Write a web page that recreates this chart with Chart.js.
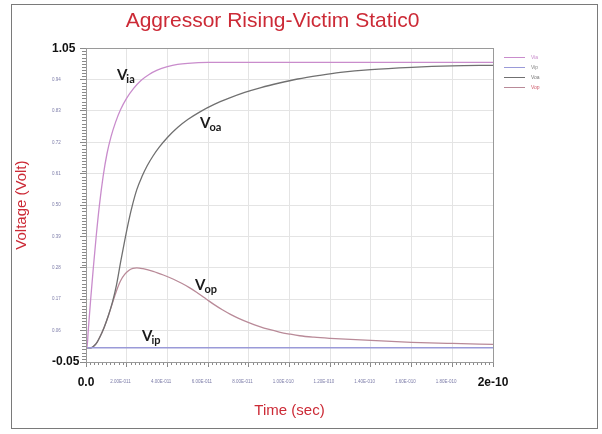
<!DOCTYPE html>
<html lang="en">
<head>
<meta charset="UTF-8">
<title>Aggressor Rising-Victim Static0</title>
<script src="https://cdn.jsdelivr.net/npm/chart.js"></script>
<style>
    body { margin: 0; background: #fff; }
    .wrap { position: relative; width: 602px; height: 434px; }
    .wrap canvas { position: absolute; left: 0; top: 0; }
    .frame {
        position: absolute; left: 11px; top: 4px; width: 585px; height: 423px;
        border: 1px solid #7a7a7a; pointer-events: none;
    }
</style>
</head>
<body>
<div class="wrap">
    <canvas id="chart" width="602" height="434"></canvas>
    <div class="frame"></div>
</div>
<script>
// time in ps, voltage in V
const seriesNames = ['Via', 'Vip', 'Voa', 'Vop'];

const viaTime = [0, 0.5, 1.1, 2.3, 3.6, 5, 6.6, 8.4, 10.3, 12.3, 14.5, 17, 20, 23.5, 27, 31, 35, 40, 45, 50, 60, 200];
const viaVolt = [0, 0, 0.06, 0.17, 0.28, 0.39, 0.50, 0.60, 0.68, 0.74, 0.79, 0.835, 0.875, 0.91, 0.937, 0.958, 0.973, 0.985, 0.993, 0.997, 1.0, 1.0];

const vipTime = [0, 200];
const vipVolt = [0, 0];

const voaTime = [0, 2.5, 4, 5.5, 7, 9, 11, 13, 15, 17, 19, 21, 23, 25, 27.5, 30, 33, 36, 40, 45, 50, 56, 63, 70, 78, 86, 95, 104, 115, 125, 140, 160, 180, 200];
const voaVolt = [0, 0, 0.007, 0.02, 0.04, 0.073, 0.113, 0.16, 0.22, 0.30, 0.375, 0.445, 0.505, 0.555, 0.60, 0.637, 0.673, 0.703, 0.737, 0.772, 0.80, 0.827, 0.853, 0.874, 0.895, 0.912, 0.928, 0.942, 0.955, 0.965, 0.975, 0.983, 0.988, 0.99];

const vopTime = [0, 2.5, 4, 5.5, 7, 9, 11, 13, 15, 17, 19, 21, 23, 25, 28, 33, 38, 43, 47, 51, 55, 59, 63, 67, 71, 75, 80, 85, 90, 95, 100, 105, 112, 120, 130, 145, 160, 180, 200];
const vopVolt = [0, 0, 0.007, 0.02, 0.04, 0.073, 0.112, 0.157, 0.2, 0.235, 0.257, 0.271, 0.278, 0.28, 0.277, 0.268, 0.255, 0.24, 0.226, 0.21, 0.191, 0.171, 0.151, 0.133, 0.117, 0.103, 0.088, 0.075, 0.064, 0.055, 0.048, 0.042, 0.037, 0.033, 0.029, 0.024, 0.019, 0.015, 0.012];

const xTicks = [0, 20, 40, 60, 80, 100, 120, 140, 160, 180, 200];
const xTickLabels = ['0.0', '2.00E-011', '4.00E-011', '6.00E-011', '8.00E-011', '1.00E-010',
                     '1.20E-010', '1.40E-010', '1.60E-010', '1.80E-010', '2e-10'];
const yTicks = [-0.05, 0.06, 0.17, 0.28, 0.39, 0.50, 0.61, 0.72, 0.83, 0.94, 1.05];
const yTickLabels = ['-0.05', '0.06', '0.17', '0.28', '0.39', '0.50', '0.61', '0.72', '0.83', '0.94', '1.05'];

const colors = ['#c98ccc', '#9a9ad8', '#707070', '#b98a98'];
const legendTextColors = ['#c98ccc', '#8a8a8a', '#7a7a7a', '#d06070'];
const red = '#cc2a36';

function pts(t, v) { return t.map((x, i) => ({ x: x, y: v[i] })); }

const isEnd = (i, n) => i === 0 || i === n - 1;
const bigFont = { family: 'Liberation Sans, Arial', size: 12, weight: 'bold', lineHeight: 1.2 };
const tinyFont = { family: 'Liberation Sans, Arial', size: 4.5, lineHeight: 3.2 };

// minor ticks, plot border, curve labels, legend, y title
const decor = {
    id: 'decor',
    afterDraw(chart) {
        const { ctx, chartArea: a } = chart;
        const x = chart.scales.x, y = chart.scales.y;
        ctx.save();
        ctx.strokeStyle = '#8a8a8a';
        ctx.lineWidth = 1;
        ctx.beginPath();
        for (let i = 0; i < xTicks.length - 1; i++) {
            for (let k = 1; k < 10; k++) {
                const px = Math.round(x.getPixelForValue(xTicks[i] + (xTicks[i + 1] - xTicks[i]) * k / 10)) + 0.5;
                ctx.moveTo(px, a.bottom);
                ctx.lineTo(px, a.bottom + 3);
            }
        }
        for (let i = 0; i < yTicks.length - 1; i++) {
            for (let k = 1; k < 10; k++) {
                const py = Math.round(y.getPixelForValue(yTicks[i] + (yTicks[i + 1] - yTicks[i]) * k / 10)) + 0.5;
                ctx.moveTo(a.left, py);
                ctx.lineTo(a.left - 4, py);
            }
        }
        ctx.stroke();
        ctx.strokeStyle = '#9a9a9a';
        ctx.strokeRect(Math.round(a.left) + 0.5, Math.round(a.top) + 0.5, Math.round(a.right - a.left), Math.round(a.bottom - a.top));

        // curve labels: V with subscript
        const labels = [
            ['V', 'ia', 15.2, 0.938],
            ['V', 'oa', 56, 0.769],
            ['V', 'op', 53.6, 0.201],
            ['V', 'ip', 27.5, 0.024]
        ];
        ctx.fillStyle = '#1a1a1a';
        ctx.textBaseline = 'alphabetic';
        ctx.textAlign = 'left';
        labels.forEach(([m, s, tx, ty]) => {
            const px = x.getPixelForValue(tx), py = y.getPixelForValue(ty);
            ctx.font = 'bold 15px Lato, "Liberation Sans", sans-serif';
            ctx.fillText(m, px, py);
            const w = ctx.measureText(m).width;
            ctx.font = 'bold 11px Lato, "Liberation Sans", sans-serif';
            ctx.fillText(s, px + w - 1, py + 3);
        });

        // legend
        ctx.font = '5px "Liberation Sans", Arial';
        ctx.textBaseline = 'middle';
        chart.data.datasets.forEach((ds, i) => {
            const ly = 57.5 + i * 10;
            ctx.strokeStyle = ds.borderColor;
            ctx.beginPath();
            ctx.moveTo(504, ly);
            ctx.lineTo(525, ly);
            ctx.stroke();
            ctx.fillStyle = legendTextColors[i];
            ctx.fillText(ds.label, 531, ly);
        });

        // y axis title
        ctx.translate(22, (a.top + a.bottom) / 2);
        ctx.rotate(-Math.PI / 2);
        ctx.font = '15px "Liberation Sans", Arial';
        ctx.fillStyle = red;
        ctx.textAlign = 'center';
        ctx.textBaseline = 'middle';
        ctx.fillText('Voltage (Volt)', 0, 0);
        ctx.restore();
    }
};

new Chart(document.getElementById('chart'), {
    type: 'line',
    data: {
        datasets: [
            { label: seriesNames[0], data: pts(viaTime, viaVolt), borderColor: colors[0] },
            { label: seriesNames[1], data: pts(vipTime, vipVolt), borderColor: colors[1] },
            { label: seriesNames[2], data: pts(voaTime, voaVolt), borderColor: colors[2] },
            { label: seriesNames[3], data: pts(vopTime, vopVolt), borderColor: colors[3] }
        ]
    },
    options: {
        responsive: false,
        animation: false,
        layout: { padding: { left: 52, right: 109, top: 0, bottom: 10 } },
        elements: {
            point: { radius: 0 },
            line: { borderWidth: 1.3, fill: false, cubicInterpolationMode: 'monotone' }
        },
        plugins: {
            legend: { display: false },
            tooltip: { enabled: false },
            title: {
                display: true,
                text: 'Aggressor Rising-Victim Static0',
                color: red,
                font: { family: 'Liberation Sans, Arial', size: 21, weight: 'normal' },
                padding: { top: 9, bottom: 14 }
            }
        },
        scales: {
            x: {
                type: 'linear',
                min: 0,
                max: 200,
                afterBuildTicks: s => { s.ticks = xTicks.map(v => ({ value: v })); },
                afterFit: s => { s.height = 62; },
                grid: { color: '#e4e4e4', tickColor: '#8a8a8a', tickLength: 5 },
                border: { color: '#8a8a8a' },
                ticks: {
                    autoSkip: false,
                    maxRotation: 0,
                    padding: 8,
                    callback: (v, i) => isEnd(i, xTickLabels.length) ? xTickLabels[i] : xTickLabels[i] + ' '.repeat(10),
                    font: c => isEnd(c.index, xTicks.length) ? bigFont : tinyFont,
                    color: c => isEnd(c.index, xTicks.length) ? '#111' : '#7c7ca8'
                },
                title: {
                    display: true,
                    text: 'Time (sec)',
                    color: red,
                    font: { family: 'Liberation Sans, Arial', size: 15 },
                    padding: { top: 4, bottom: 4 }
                }
            },
            y: {
                min: -0.05,
                max: 1.05,
                afterBuildTicks: s => { s.ticks = yTicks.map(v => ({ value: v })); },
                afterFit: s => { s.width = 34; },
                grid: { color: '#e4e4e4', tickColor: '#8a8a8a', tickLength: 6 },
                border: { color: '#8a8a8a' },
                ticks: {
                    autoSkip: false,
                    crossAlign: 'far',
                    callback: (v, i) => yTickLabels[i],
                    font: c => isEnd(c.index, yTicks.length) ? bigFont : { family: 'Liberation Sans, Arial', size: 4.5 },
                    color: c => isEnd(c.index, yTicks.length) ? '#111' : '#7c7ca8'
                }
            }
        }
    },
    plugins: [decor]
});
</script>
</body>
</html>
